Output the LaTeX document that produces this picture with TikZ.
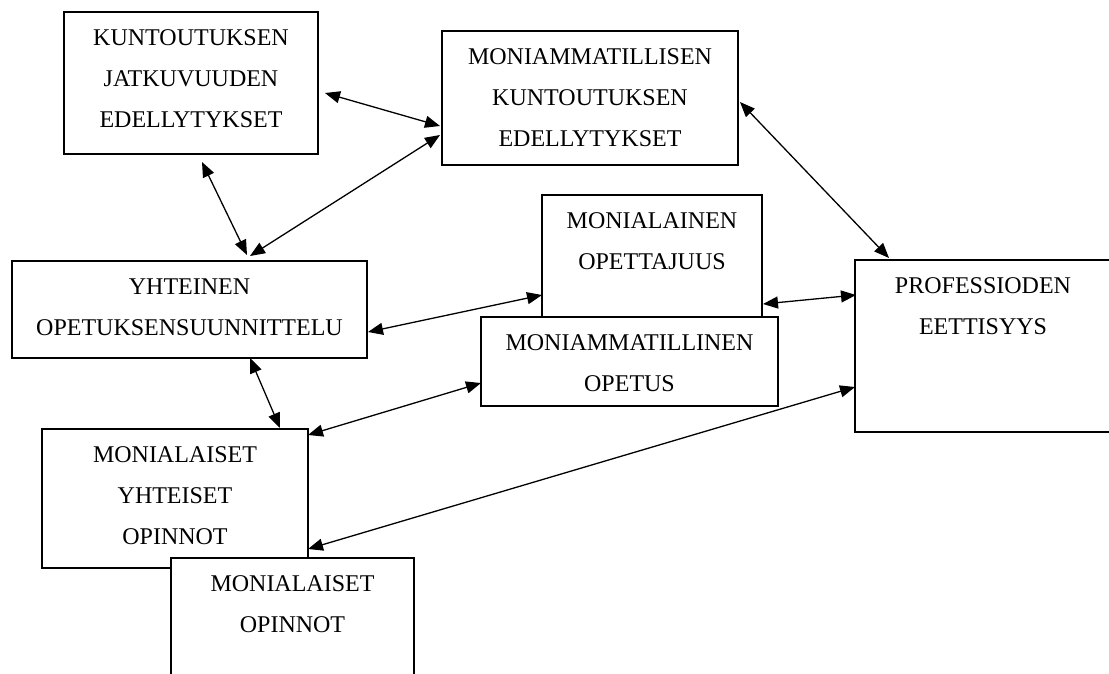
\documentclass[tikz,border=0pt]{standalone}
\usepackage{fontspec}
\setmainfont{Liberation Serif}
\usetikzlibrary{arrows.meta,calc}
\tikzset{
  box/.style={draw=black, line width=2.5pt, fill=white, rectangle, inner sep=0pt, outer sep=0pt, anchor=north west},
  txt/.style={font=\fontsize{24}{41}\selectfont, align=center, inner sep=0pt, anchor=base},
  link/.style={line width=1.3pt, {Triangle[length=15pt,width=12pt]}-{Triangle[length=15pt,width=12pt]}}
}
\begin{document}
\begin{tikzpicture}[x=1pt,y=-1pt]
\useasboundingbox (0,0) rectangle (1109,673);
\clip (0,0) rectangle (1109,673);
% boxes (text anchored at the baseline of its last line)
\node[box, minimum width=254pt, minimum height=142pt] (b1) at (64,12) {};
\node[txt] (t1) at ($(b1.north)+(0,115)$) {KUNTOUTUKSEN\\JATKUVUUDEN\\EDELLYTYKSET};
\node[box, minimum width=296pt, minimum height=134pt] (b2) at (442,31) {};
\node[txt] (t2) at ($(b2.north)+(0,115)$) {MONIAMMATILLISEN\\KUNTOUTUKSEN\\EDELLYTYKSET};
\node[box, minimum width=220pt, minimum height=150pt] (b3) at (542,195) {};
\node[txt] (t3) at ($(b3.north)+(0,74)$) {MONIALAINEN\\OPETTAJUUS};
\node[box, minimum width=355pt, minimum height=97pt] (b4) at (12,261) {};
\node[txt] (t4) at ($(b4.north)+(0,74)$) {YHTEINEN\\OPETUKSENSUUNNITTELU};
\node[box, minimum width=297pt, minimum height=89pt] (b5) at (481,317) {};
\node[txt] (t5) at ($(b5.north)+(0,74)$) {MONIAMMATILLINEN\\OPETUS};
\node[box, minimum width=266pt, minimum height=139pt] (b6) at (42,429) {};
\node[txt] (t6) at ($(b6.north)+(0,115)$) {MONIALAISET\\YHTEISET\\OPINNOT};
\node[box, minimum width=243pt, minimum height=150pt] (b7) at (171,558) {};
\node[txt] (t7) at ($(b7.north)+(0,74)$) {MONIALAISET\\OPINNOT};
\node[box, minimum width=256pt, minimum height=172pt] (b8) at (855,260) {};
\node[txt] (t8) at ($(b8.north)+(0,74)$) {PROFESSIODEN\\EETTISYYS};
% connectors
\draw[link] ($(b1.east)+(7,10)$) -- ($(b2.west)+(-2,28)$);
\draw[link] ($(b1.south)+(11,8)$) -- ($(b4.north)+(57.5,-6)$);
\draw[link] ($(b4.north)+(60.5,-5)$) -- ($(b2.west)+(-2,37)$);
\draw[link] ($(b2.east)+(2,4)$) -- ($(b8.north)+(-94,-2)$);
\draw[link] ($(b3.north east)+(1,109)$) -- ($(b8.west)+(1,-51)$);
\draw[link] ($(b4.east)+(1,22.5)$) -- ($(b3.north west)+(0,100)$);
\draw[link] ($(b4.south)+(60.5,0)$) -- ($(b6.north)+(105,-1)$);
\draw[link] ($(b6.north east)+(0,6)$) -- ($(b5.west)+(0,21.5)$);
\draw[link] ($(b6.south east)+(0,-19)$) -- ($(b8.west)+(0,41)$);
\end{tikzpicture}
\end{document}
